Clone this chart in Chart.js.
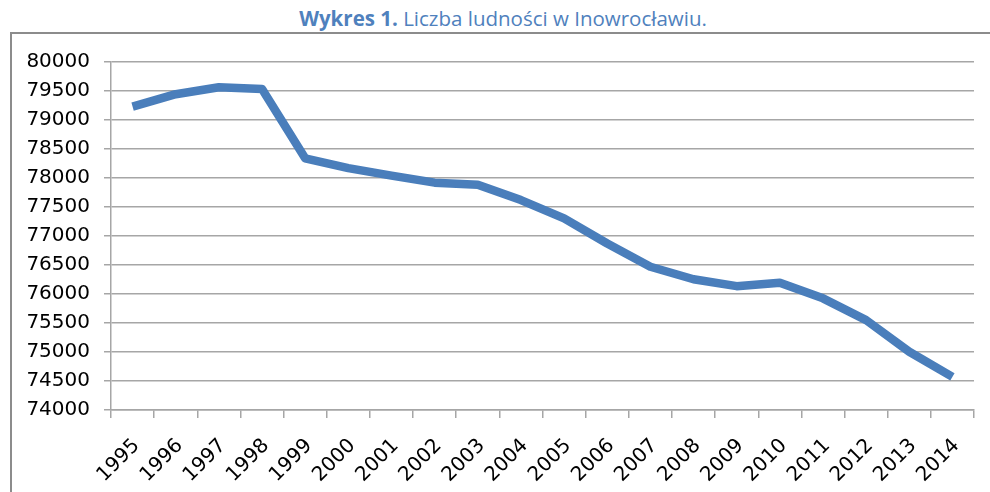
<!DOCTYPE html>
<html>
<head>
<meta charset="utf-8">
<script src="https://cdn.jsdelivr.net/npm/chart.js@4.4.1/dist/chart.umd.min.js"></script>
<style>
  body { margin: 0; background: #fff; overflow: hidden; }
  #title {
    position: absolute; left: 0; top: 4px; width: 1006px; text-align: center;
    font-family: "Open Sans", sans-serif; font-size: 20.5px; color: #4f81bd;
  }
  #box {
    position: absolute; left: 10px; top: 32px; width: 1000px; height: 520px;
    border: 2px solid #8c8c8c;
  }
  #wrap { position: absolute; left: 0; top: 0; width: 976px; height: 466px; }
</style>
</head>
<body>
<div id="title"><b>Wykres 1.</b> Liczba ludności w Inowrocławiu.</div>
<div id="box"><div id="wrap"><canvas id="popChart"></canvas></div></div>
<script>
// data
const years = ['1995', '1996', '1997', '1998', '1999', '2000', '2001', '2002', '2003', '2004',
  '2005', '2006', '2007', '2008', '2009', '2010', '2011', '2012', '2013', '2014'];
const population = [79230, 79445, 79565, 79535, 78340, 78170, 78040, 77920, 77885, 77620,
  77305, 76870, 76470, 76255, 76135, 76195, 75925, 75550, 75005, 74570];
const yMin = 74000;
const yMax = 80000;
const yStep = 500;

const popChart = new Chart(document.getElementById('popChart'), {
  type: 'line',
  data: {
    labels: years,
    datasets: [{
      label: 'Liczba ludności',
      data: population,
      borderColor: '#4a7ebb',
      borderWidth: 8.5,
      pointRadius: 0,
      tension: 0,
      borderJoinStyle: 'round',
      borderCapStyle: 'butt',
      fill: false
    }]
  },
  options: {
    responsive: true,
    maintainAspectRatio: false,
    animation: false,
    layout: { padding: { top: 28, right: 14, left: 0, bottom: 0 } },
    plugins: { legend: { display: false }, tooltip: { enabled: false } },
    scales: {
      x: {
        offset: true,
        grid: { offset: true, drawOnChartArea: false, drawTicks: true, tickLength: 8, color: '#a6a6a6', lineWidth: 1.5 },
        border: { color: '#a6a6a6', width: 1.5 },
        ticks: {
          autoSkip: false, maxRotation: 45, minRotation: 45, padding: 16, labelOffset: 4,
          color: '#000', font: { family: 'DejaVu Sans', size: 20 }
        },
        afterFit: scale => { scale.height = 90; }
      },
      y: {
        min: yMin,
        max: yMax,
        grid: { color: '#a6a6a6', lineWidth: 1.5, tickLength: 7 },
        border: { color: '#a6a6a6', width: 1.5 },
        ticks: {
          stepSize: yStep, padding: 14, color: '#000',
          font: { family: 'DejaVu Sans', size: 20 },
          callback: value => String(value)
        },
        afterFit: scale => { scale.width = 99; }
      }
    }
  }
});
</script>
</body>
</html>
